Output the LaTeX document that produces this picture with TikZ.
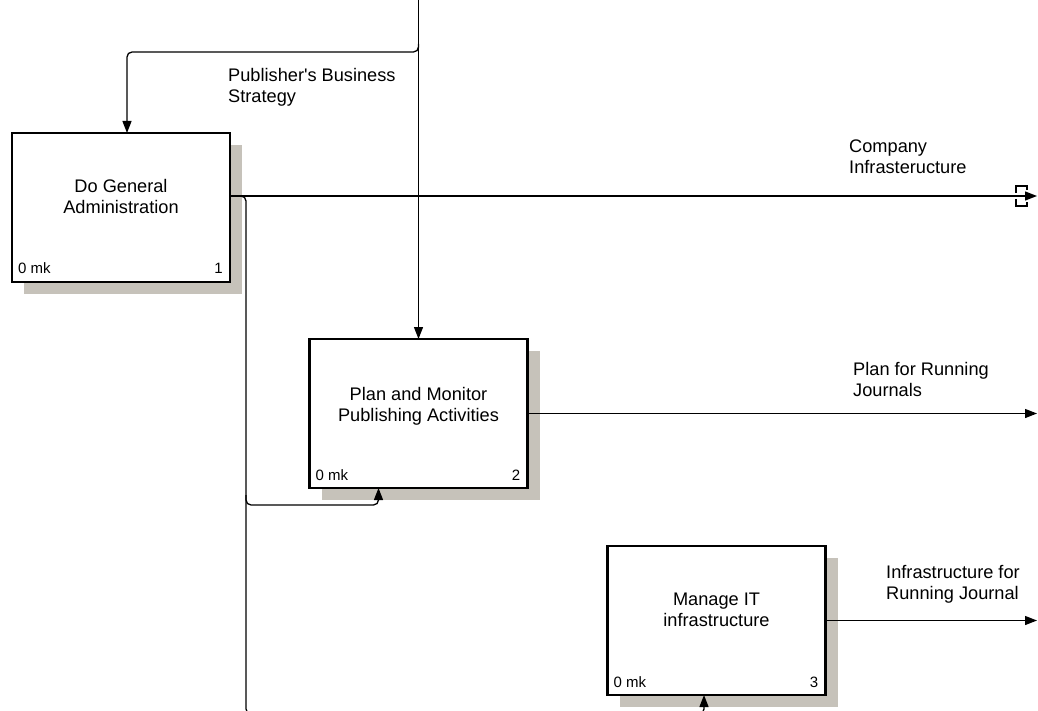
\documentclass[tikz,border=0pt]{standalone}
\usepackage{fontspec}
\setmainfont{Liberation Sans}[Ligatures=TeXOff]
\usetikzlibrary{arrows.meta,backgrounds}
\definecolor{shadowgray}{RGB}{198,194,186}
\begin{document}
\begin{tikzpicture}[x=1pt,y=-1pt,
  activity/.style={draw, line width=2.6pt, fill=white, minimum width=218pt,
    minimum height=149pt, inner sep=0pt, outer sep=0pt},
  title/.style={font=\fontsize{18.2}{21}\selectfont, align=center, inner sep=0pt, anchor=north},
  corner/.style={font=\fontsize{15}{18}\selectfont, inner sep=0pt},
  note/.style={font=\fontsize{18.2}{21}\selectfont, align=left, inner sep=0pt, anchor=north west},
  flow/.style={line width=1.3pt, rounded corners=5pt},
  tip/.style={-{Triangle[length=12pt,width=9pt]}},
  tunnel/.style={line width=1.3pt},
  shade/.style={fill=shadowgray}
]
\useasboundingbox (0,0) rectangle (1038,711);

% activity boxes
\node[activity] (b1) at (121,207.5) {};
\node[activity] (b2) at (418.5,413.5) {};
\node[activity] (b3) at (716.5,620.5) {};

% box titles
\node[title] (t1) at ([yshift=-46pt]b1.north) {Do General\\Administration};
\node[title] (t2) at ([yshift=-48pt]b2.north) {Plan and Monitor\\Publishing Activities};
\node[title] (t3) at ([yshift=-47pt]b3.north) {Manage IT\\infrastructure};

% cost and node numbers
\node[corner, anchor=west] (c1) at ([xshift=6pt,yshift=14pt]b1.south west) {0 mk};
\node[corner, anchor=east] (n1) at ([xshift=-7pt,yshift=14pt]b1.south east) {1};
\node[corner, anchor=west] (c2) at ([xshift=6pt,yshift=13pt]b2.south west) {0 mk};
\node[corner, anchor=east] (n2) at ([xshift=-7pt,yshift=13pt]b2.south east) {2};
\node[corner, anchor=west] (c3) at ([xshift=6pt,yshift=13pt]b3.south west) {0 mk};
\node[corner, anchor=east] (n3) at ([xshift=-7pt,yshift=13pt]b3.south east) {3};

% drop shadows
\begin{scope}[on background layer]
  \foreach \b in {b1,b2,b3}
    \fill[shade] ([xshift=12pt,yshift=-12pt]\b.south west) rectangle ([xshift=12pt,yshift=-12pt]\b.north east);
\end{scope}

% arrow labels
\node[note] (l1) at (228,68) {Publisher's Business\\Strategy};
\node[note] (l2) at (849,140) {Company\\Infrasteructure};
\node[note] (l3) at (853,362) {Plan for Running\\Journals};
\node[note] (l4) at (886,565) {Infrastructure for\\Running Journal};

% connector points
\coordinate (ctl) at (418.5,0);
\coordinate (split) at (418.5,52);
\coordinate (b1in) at ([xshift=6pt]b1.north);
\coordinate (o1) at ([yshift=11.5pt]b1.east);
\coordinate (out1) at (1037,196);
\coordinate (bus) at (246,505);
\coordinate (low) at (246,714);
\coordinate (b2in) at ([xshift=-40pt]b2.south);
\coordinate (b3in) at ([xshift=-12.5pt]b3.south);

\begin{scope}
\clip (0,0) rectangle (1038,711);
% control arrow
\draw[flow,tip] (ctl) -- (b2.north);
\draw[flow,tip] ([yshift=8pt]split) -- (split) -- (split -| b1in) -- (b1in);
% outputs
\draw[flow,tip] (o1) -- (out1);
\draw[flow,tip] (b2.east) -- (b2.east -| out1);
\draw[flow,tip] (b3.east) -- (b3.east -| out1);
% feedback from box 1 to boxes 2 and 3
\draw[flow,tip] ([xshift=6pt]o1) -- (o1 -| bus) -- (bus) -- (bus -| b2in) -- (b2in);
\draw[flow,tip] ([yshift=10pt]bus) -- (low) -- (low -| b3in) -- (b3in);
\end{scope}

% tunnel brackets at the end of the first output
\draw[tunnel] ([xshift=-21pt,yshift=3pt]out1) -- ++(0,-7) -- ++(11,0) -- ++(0,4);
\draw[tunnel] ([xshift=-21pt,yshift=-3pt]out1) -- ++(0,7) -- ++(11,0) -- ++(0,-4);
\end{tikzpicture}
\end{document}
